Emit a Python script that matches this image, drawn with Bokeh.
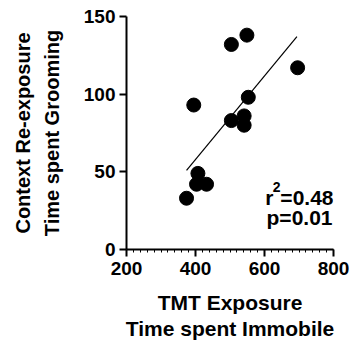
from bokeh.plotting import figure
from bokeh.models import Range1d, FixedTicker, Label
from bokeh.embed import file_html
from bokeh.resources import INLINE

immobile = [374, 407, 403, 432, 395, 504, 549, 696, 553, 504, 541, 541]
grooming = [33, 49, 42, 42, 93, 132, 138, 117, 98, 83, 86, 80]
fit_x = [374, 694]
fit_y = [51, 137]
x_ticks = [200, 400, 600, 800]
y_ticks = [0, 50, 100, 150]

FONT = "Liberation Sans"

p = figure(width=352, height=343, output_backend="svg", toolbar_location=None,
           x_range=Range1d(200, 800), y_range=Range1d(0, 150),
           min_border_left=126, min_border_right=19, min_border_top=16, min_border_bottom=94)
p.outline_line_color = None
p.grid.visible = False

p.line(fit_x, fit_y, line_color="black", line_width=1.2)
p.scatter(immobile, grooming, size=14, fill_color="black", line_color="black")

for ax in (p.xaxis[0], p.yaxis[0]):
    ax.axis_line_width = 2
    ax.axis_line_color = "black"
    ax.major_tick_line_width = 2
    ax.major_tick_line_color = "black"
    ax.major_tick_out = 7
    ax.major_tick_in = 0
    ax.major_label_text_font = FONT
    ax.major_label_text_font_style = "bold"
    ax.major_label_text_font_size = "19px"
    ax.major_label_text_color = "black"
    ax.axis_label_text_font = FONT
    ax.axis_label_text_font_style = "bold"
    ax.axis_label_text_color = "black"

p.xaxis.axis_label_text_font_size = "21px"
p.yaxis.axis_label_text_font_size = "20px"

p.xaxis.ticker = FixedTicker(ticks=x_ticks, minor_ticks=list(range(200, 801, 20)))
p.yaxis.ticker = FixedTicker(ticks=y_ticks, minor_ticks=[])
p.xaxis.minor_tick_out = 3
p.xaxis.minor_tick_in = 0
p.xaxis.minor_tick_line_color = "black"
p.xaxis.minor_tick_line_width = 1
p.yaxis.minor_tick_line_color = None
p.xaxis.major_label_standoff = 5
p.yaxis.major_label_standoff = 4

p.xaxis.axis_label = "TMT Exposure\nTime spent Immobile"
p.yaxis.axis_label = "Context Re-exposure\nTime spent Grooming"
p.xaxis.axis_label_standoff = 13
p.yaxis.axis_label_standoff = 18
p.xaxis.axis_label_text_line_height = 1.15
p.yaxis.axis_label_text_line_height = 1.3

common = dict(text_font=FONT, text_font_style="bold", text_color="black",
              text_baseline="alphabetic", text_align="right")
p.add_layout(Label(x=800, y=33.6, x_offset=0, text="=0.48", text_font_size="21px", **common))
p.add_layout(Label(x=800, y=40.5, x_offset=-53, text="2", text_font_size="14px", **common))
p.add_layout(Label(x=800, y=33.6, x_offset=-60, text="r", text_font_size="21px", **common))
p.add_layout(Label(x=800, y=20.7, x_offset=-1, text="p=0.01", text_font_size="21px", **common))

open("out.html", "w").write(file_html(p, INLINE))
